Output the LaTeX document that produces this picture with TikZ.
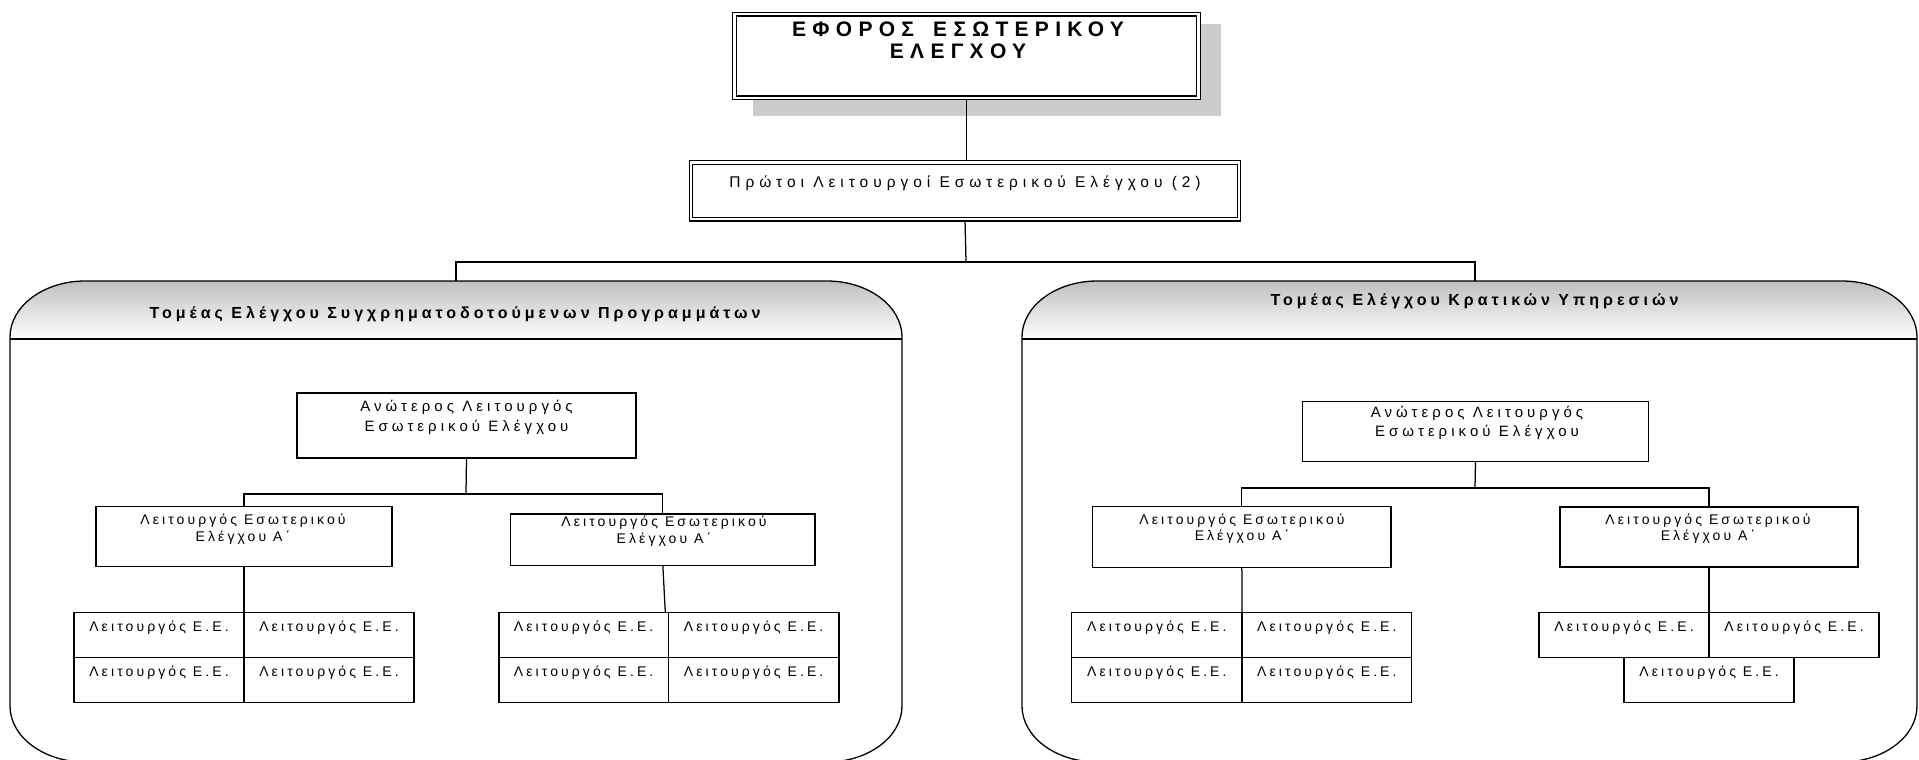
\documentclass[tikz,border=0pt]{standalone}
\usepackage{fontspec}
\setmainfont{Liberation Sans}
\usetikzlibrary{backgrounds}
\newcommand\tracking[1]{\addfontfeatures{LetterSpace=#1}}

% a framed box given by its corners (x1,y1) (x2,y2), y growing downwards
\newcommand\abox[6][frame]{%
  \node[#1, minimum width={#5-#3}, minimum height={#6-#4}] (#2) at (#3,#4) {};}
% a staff cell with its label near the top
\newcommand\cellbox[5]{%
  \node[frame, minimum width={#4-#2}, minimum height={#5-#3}] (#1) at (#2,#3) {};
  \node[lbl] (#1-t) at ({(#2+#4)/2},{#3+19.4}) {Λειτουργός Ε.Ε.};}
% a department panel with shaded, rounded header
\newcommand\drawpanel[2]{%
  \shade[top color=black!25, bottom color=white]
    (#1,339) -- (#1,337) .. controls (#1,306) and ({#1+34},281) .. ({#1+75},281)
    -- ({#2-75},281) .. controls ({#2-34},281) and (#2,306) .. (#2,337) -- (#2,339) -- cycle;
  \draw[panel] (#1,339) -- (#2,339);
  \draw[panel] (#1,706) -- (#1,337) .. controls (#1,306) and ({#1+34},281) .. ({#1+75},281)
    -- ({#2-75},281) .. controls ({#2-34},281) and (#2,306) .. (#2,337)
    -- (#2,706) .. controls (#2,737) and ({#2-34},762) .. ({#2-75},762)
    -- ({#1+75},762) .. controls ({#1+34},762) and (#1,737) .. (#1,706) -- cycle;}

\begin{document}
\begin{tikzpicture}[x=1pt, y=-1pt,
  every node/.style={inner sep=0pt, outer sep=0pt},
  frame/.style={draw=black, line width=1.25pt, fill=white, anchor=north west},
  dframe/.style={draw=black, line width=1.2pt, double=white, double distance=2.2pt,
    fill=white, anchor=north west},
  link/.style={draw=black, line width=1.25pt},
  panel/.style={draw=black, line width=1.3pt},
  lbl/.style={anchor=base, font=\fontsize{14}{17}\selectfont\tracking{22}},
  lblsen/.style={anchor=base, font=\fontsize{15}{18}\selectfont\tracking{27}},
  lblsec/.style={anchor=base, font=\fontsize{15.5}{18}\selectfont\tracking{32}},
  hdr/.style={anchor=base, font=\bfseries\fontsize{16}{19}\selectfont\tracking{25}},
  ttl/.style={anchor=base, font=\bfseries\fontsize{21}{24}\selectfont\tracking{30}},
  shadowfill/.style={fill=black!20}]

\useasboundingbox (0,0) rectangle (1919,760);
\clip (0,0) rectangle (1919,760);

% departments
\drawpanel{10}{902}
\drawpanel{1022}{1917}
\node[hdr] (hL) at (455,318) {Τομέας Ελέγχου Συγχρηματοδοτούμενων Προγραμμάτων};
\node[hdr] (hR) at (1474.5,305) {Τομέας Ελέγχου Κρατικών Υπηρεσιών};
\coordinate (pLtop) at (456,281);
\coordinate (pRtop) at (1475,281);

% head of internal audit
\abox[dframe]{top}{734.5}{14.3}{1198.5}{97.7}
\node[ttl] (ttl1) at (958,37) {ΕΦΟΡΟΣ\hspace{7pt} ΕΣΩΤΕΡΙΚΟΥ};
\node[ttl] (ttl2) at (958,59) {ΕΛΕΓΧΟΥ};

\abox[dframe]{sec}{691}{162.5}{1239}{219.3}
\node[lblsec] (secT) at (965,187) {Πρώτοι Λειτουργοί Εσωτερικού Ελέγχου (2)};
\coordinate (bus) at (966,262);

% left department
\abox{sL}{297}{393}{636}{458}
\node[lblsen] (sL1) at (466.5,411) {Ανώτερος Λειτουργός};
\node[lblsen] (sL2) at (466.5,431) {Εσωτερικού Ελέγχου};
\coordinate (barL) at (466,494);

\abox{oL1}{96}{506.7}{392}{566.7}
\node[lbl] (oL1a) at (243,524) {Λειτουργός Εσωτερικού};
\node[lbl] (oL1b) at (243,541) {Ελέγχου Α΄};
\abox{oL2}{510.7}{514}{815}{565.7}
\node[lbl] (oL2a) at (664,526.7) {Λειτουργός Εσωτερικού};
\node[lbl] (oL2b) at (664,543) {Ελέγχου Α΄};

\cellbox{LLa}{74}{612.3}{244}{657.3}
\cellbox{LLb}{244}{612.3}{414}{657.3}
\cellbox{LLc}{74}{657.3}{244}{702.7}
\cellbox{LLd}{244}{657.3}{414}{702.7}
\cellbox{LRa}{499}{612.3}{668.3}{657.3}
\cellbox{LRb}{668.3}{612.3}{839}{657.3}
\cellbox{LRc}{499}{657.3}{668.3}{702.7}
\cellbox{LRd}{668.3}{657.3}{839}{702.7}

% right department
\abox{sR}{1302.7}{401.7}{1648.3}{461.7}
\node[lblsen] (sR1) at (1477,417.3) {Ανώτερος Λειτουργός};
\node[lblsen] (sR2) at (1477,436.7) {Εσωτερικού Ελέγχου};
\coordinate (barR) at (1475,488);

\abox{oR1}{1092.7}{506.7}{1391}{567.3}
\node[lbl] (oR1a) at (1242,524) {Λειτουργός Εσωτερικού};
\node[lbl] (oR1b) at (1242,540.7) {Ελέγχου Α΄};
\abox{oR2}{1560}{507}{1858}{567}
\node[lbl] (oR2a) at (1708,524) {Λειτουργός Εσωτερικού};
\node[lbl] (oR2b) at (1708,540.7) {Ελέγχου Α΄};

\cellbox{RLa}{1071.7}{612.3}{1242}{657.3}
\cellbox{RLb}{1242}{612.3}{1411.7}{657.3}
\cellbox{RLc}{1071.7}{657.3}{1242}{702.7}
\cellbox{RLd}{1242}{657.3}{1411.7}{702.7}
\cellbox{RRa}{1539}{612.3}{1709}{657.3}
\cellbox{RRb}{1709}{612.3}{1879}{657.3}
\cellbox{RRc}{1624}{657.3}{1794}{702.7}

% shadow and connectors behind the boxes
\begin{scope}[on background layer]
  \fill[shadowfill] (753,24) rectangle (1221,116);
  \draw[link] (top.south) -- (top.south |- sec.north);
  \draw[link] (sec.south) -- (bus);
  \draw[link] (pLtop) |- (bus) -| (pRtop);
  \draw[link] (sL.south) -- (barL);
  \draw[link] (oL1.north) |- (barL) -| (oL2.north);
  \draw[link] (oL1.south) -- (LLa.north east);
  \draw[link] (oL2.south) -- ([xshift=-3pt]LRa.north east);
  \draw[link] (sR.south) -- (barR);
  \draw[link] (oR1.north) |- (barR) -| (oR2.north);
  \draw[link] (oR1.south) -- (RLa.north east);
  \draw[link] (oR2.south) -- (RRa.north east);
\end{scope}
\end{tikzpicture}
\end{document}
